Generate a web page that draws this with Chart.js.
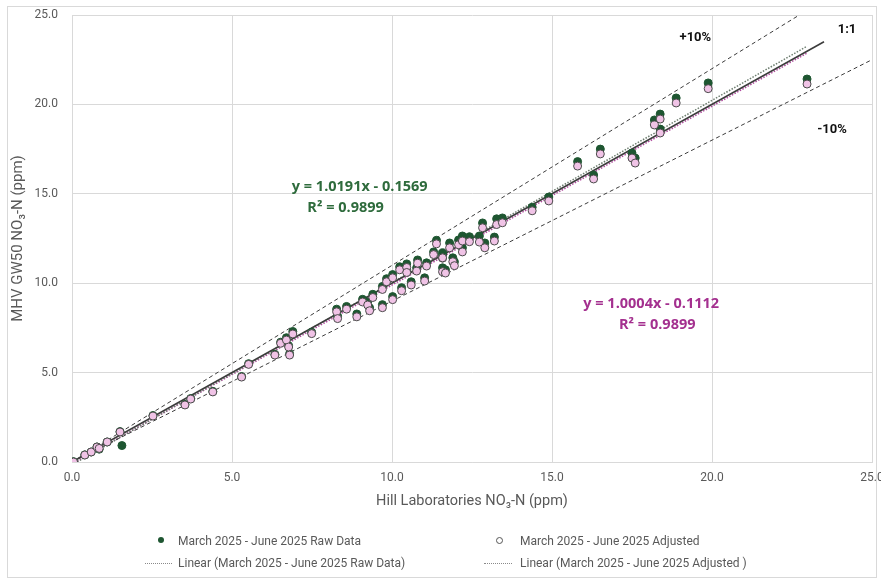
<!DOCTYPE html>
<html>
<head>
<meta charset="utf-8">
<script src="https://cdn.jsdelivr.net/npm/chart.js@4.4.1/dist/chart.umd.min.js"></script>
<style>
  body { margin: 0; background: #fff; }
  #wrap { position: relative; width: 881px; height: 579px; }
  #frame { position: absolute; left: 7px; top: 6px; width: 868px; height: 570px; border: 1px solid #d9d9d9; pointer-events: none; }
  .lg { position: absolute; font-family: Roboto, sans-serif; font-size: 12px; color: #595959; white-space: nowrap; line-height: 14px; }
  .dot { position: absolute; width: 6px; height: 6px; border-radius: 50%; }
  .dash { position: absolute; height: 0; border-top: 1.5px dotted #8a8a8a; }
</style>
</head>
<body>
<div id="wrap">
  <canvas id="chart" width="881" height="579"></canvas>
  <div id="frame"></div>
  <div class="dot" style="left:158px; top:537px; background:#1e5631;"></div>
  <div class="lg" style="left:178px; top:534px;">March 2025 - June 2025 Raw Data</div>
  <div class="dot" style="left:496px; top:537px; background:#fff; border:1px solid #555; width:5px; height:5px;"></div>
  <div class="lg" style="left:520px; top:534px;">March 2025 - June 2025 Adjusted</div>
  <div class="dash" style="left:145px; top:563px; width:27px;"></div>
  <div class="lg" style="left:178px; top:556px;">Linear (March 2025 - June 2025 Raw Data)</div>
  <div class="dash" style="left:484px; top:563px; width:28px;"></div>
  <div class="lg" style="left:520px; top:556px;">Linear (March 2025 - June 2025 Adjusted )</div>
</div>
<script>
// Hill Labs NO3-N (x) against MHV GW50 readings, raw and adjusted
const hillVals = [0.05, 0.4, 0.6, 0.78, 0.85, 1.1, 1.5, 1.56, 2.53, 3.53, 3.71, 4.4, 5.3, 5.52, 6.34, 6.52, 6.7, 6.77, 6.8, 6.9,
  7.49, 8.27, 8.3, 8.58, 8.9, 9.08, 9.24, 9.3, 9.4, 9.7, 9.7, 9.83, 10.02, 10.02, 10.24, 10.3, 10.46, 10.46, 10.6, 10.77,
  10.8, 11.02, 11.08, 11.3, 11.39, 11.58, 11.58, 11.58, 11.67, 11.8, 11.9, 11.95, 12.08, 12.2, 12.2, 12.42, 12.73, 12.83, 12.9, 13.2,
  13.27, 13.45, 14.38, 14.9, 15.8, 16.3, 16.51, 17.5, 17.6, 18.2, 18.38, 18.38, 18.88, 19.88, 22.97];
const rawVals = [0.02, 0.4, 0.56, 0.84, 0.72, 1.12, 1.7, 0.92, 2.6, 3.22, 3.55, 3.95, 4.78, 5.5, 6.02, 6.7, 6.95, 6.5, 6.05, 7.3,
  7.25, 8.55, 8.15, 8.7, 8.28, 9.1, 8.95, 8.62, 9.38, 9.82, 8.8, 10.25, 10.48, 9.25, 10.92, 9.75, 11.08, 10.75, 10.08, 10.86,
  11.3, 10.3, 11.14, 11.75, 12.4, 11.58, 11.7, 10.86, 10.75, 12.25, 11.42, 11.2, 12.42, 12.64, 11.98, 12.6, 12.64, 13.37, 12.25, 12.58,
  13.6, 13.65, 14.25, 14.82, 16.8, 16.05, 17.5, 17.28, 17.0, 19.13, 19.46, 18.62, 20.36, 21.2, 21.42];
const adjVals = [0.0, 0.39, 0.56, 0.84, 0.76, 1.12, 1.68, null, 2.57, 3.19, 3.52, 3.92, 4.75, 5.46, 5.98, 6.64, 6.82, 6.43, 5.98, 7.16,
  7.18, 8.4, 8.02, 8.55, 8.12, 8.95, 8.78, 8.46, 9.2, 9.65, 8.63, 10.08, 10.3, 9.08, 10.75, 9.58, 10.88, 10.6, 9.9, 10.68,
  11.12, 10.12, 10.96, 11.6, 12.2, 11.4, 11.42, 10.64, 10.57, 11.98, 11.2, 10.98, 12.15, 12.36, 11.75, 12.32, 12.3, 13.1, 11.98, 12.36,
  13.28, 13.38, 14.05, 14.6, 16.55, 15.83, 17.23, 17.0, 16.72, 18.85, 19.18, 18.4, 20.08, 20.88, 21.14];

// trend lines (Excel linear fits) and reference lines, as end points
const rawTrend = [[0, -0.157], [22.97, 23.25]];
const adjTrend = [[0, -0.111], [22.97, 22.87]];
const oneToOne = [[0, 0], [23.5, 23.5]];
const plus10 = [[0, 0], [22.73, 25]];
const minus10 = [[0, 0], [25, 22.5]];

const axisTicks = [0, 5, 10, 15, 20, 25];

// text labels placed in data units
const notes = [
  { text: 'y = 1.0191x - 0.1569', x: 8.99, y: 15.38, color: '#2e6b3c', big: true },
  { text: 'R² = 0.9899', x: 8.55, y: 14.2, color: '#2e6b3c', big: true },
  { text: 'y = 1.0004x - 0.1112', x: 18.1, y: 8.84, color: '#a4308f', big: true },
  { text: 'R² = 0.9899', x: 18.29, y: 7.66, color: '#a4308f', big: true },
  { text: '+10%', x: 19.48, y: 23.71, color: '#111' },
  { text: '1:1', x: 24.22, y: 24.16, color: '#111' },
  { text: '-10%', x: 23.75, y: 18.57, color: '#111' }
];

const toPts = arr => arr.map(p => ({ x: p[0], y: p[1] }));
const rawPts = hillVals.map((x, i) => ({ x: x, y: rawVals[i] }));
const adjPts = hillVals.map((x, i) => ({ x: x, y: adjVals[i] })).filter(p => p.y !== null);

const notePlugin = {
  id: 'notes',
  afterDatasetsDraw(chart) {
    const ctx = chart.ctx;
    const xs = chart.scales.x, ys = chart.scales.y;
    ctx.save();
    ctx.textAlign = 'center';
    ctx.textBaseline = 'middle';
    notes.forEach(n => {
      ctx.font = n.big ? 'bold 14.5px "Open Sans", sans-serif' : 'bold 13px Roboto, sans-serif';
      ctx.fillStyle = n.color;
      ctx.fillText(n.text, xs.getPixelForValue(n.x), ys.getPixelForValue(n.y));
    });
    ctx.restore();
  }
};

const lineStyle = (color, dash, width) => ({
  type: 'line', showLine: true, pointRadius: 0, borderColor: color, borderWidth: width,
  borderDash: dash, fill: false, tension: 0, order: 5
});

const tickFont = { family: 'Roboto, sans-serif', size: 12 };

new Chart(document.getElementById('chart'), {
  type: 'scatter',
  data: {
    datasets: [
      Object.assign(lineStyle('#3c3c3c', [], 1.6), { label: '1:1', data: toPts(oneToOne) }),
      Object.assign(lineStyle('#3c3c3c', [4, 3], 1), { label: '+10%', data: toPts(plus10) }),
      Object.assign(lineStyle('#3c3c3c', [4, 3], 1), { label: '-10%', data: toPts(minus10) }),
      Object.assign(lineStyle('#6d7d6f', [1.5, 1.5], 1.5), { label: 'Linear (March 2025 - June 2025 Raw Data)', data: toPts(rawTrend) }),
      Object.assign(lineStyle('#b04a9e', [1.5, 1.5], 1.5), { label: 'Linear (March 2025 - June 2025 Adjusted )', data: toPts(adjTrend) }),
      {
        label: 'March 2025 - June 2025 Raw Data', data: rawPts, order: 2,
        pointRadius: 4, backgroundColor: '#1e5631', borderColor: '#1e5631', borderWidth: 1
      },
      {
        label: 'March 2025 - June 2025 Adjusted', data: adjPts, order: 1,
        pointRadius: 4, backgroundColor: '#f0c3e6', borderColor: '#4a4a4a', borderWidth: 1
      }
    ]
  },
  options: {
    responsive: false,
    animation: false,
    devicePixelRatio: 1,
    layout: { padding: { left: 0, top: 15, right: 9, bottom: 67 } },
    plugins: { legend: { display: false }, tooltip: { enabled: false } },
    scales: {
      x: {
        type: 'linear', min: 0, max: 25,
        afterBuildTicks: s => { s.ticks = axisTicks.map(v => ({ value: v })); },
        afterFit: s => { s.height = 50; s.paddingLeft = 0; s.paddingRight = 0; },
        grid: { color: '#d9d9d9', drawTicks: false },
        border: { color: '#d9d9d9' },
        ticks: { padding: 9, color: '#595959', font: tickFont, callback: v => v.toFixed(1) },
        title: { display: true, text: 'Hill Laboratories NO₃-N (ppm)', color: '#595959', font: { family: 'Roboto, sans-serif', size: 14.5 }, padding: { top: 0, bottom: 2 } }
      },
      y: {
        type: 'linear', min: 0, max: 25,
        afterBuildTicks: s => { s.ticks = axisTicks.map(v => ({ value: v })); },
        afterFit: s => { s.width = 72; s.paddingTop = 0; s.paddingBottom = 0; },
        grid: { color: '#d9d9d9', drawTicks: false },
        border: { color: '#d9d9d9' },
        ticks: { padding: 14, color: '#595959', font: tickFont, callback: v => v.toFixed(1) },
        title: { display: true, text: 'MHV GW50 NO₃-N (ppm)', color: '#595959', font: { family: 'Roboto, sans-serif', size: 15 }, padding: { top: 9, bottom: 0 } }
      }
    }
  },
  plugins: [notePlugin]
});
</script>
</body>
</html>
